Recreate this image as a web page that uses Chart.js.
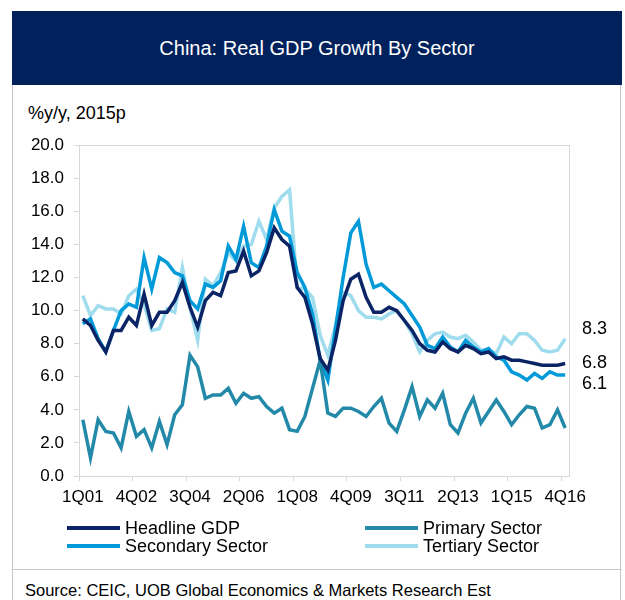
<!DOCTYPE html>
<html>
<head>
<meta charset="utf-8">
<script src="https://cdn.jsdelivr.net/npm/chart.js@4"></script>
<style>
  html, body { margin: 0; padding: 0; background: #fff; }
  body { width: 625px; height: 600px; position: relative; overflow: hidden;
         font-family: 'Liberation Sans', Arial, sans-serif; color: #000; }
  #frame { position: absolute; left: 12px; top: 11px; width: 609px; height: 620px;
           border: 1px solid #c8c8c8; box-sizing: border-box; }
  #banner { position: absolute; left: 12px; top: 11px; width: 610px; height: 74px;
            background: #00215c; color: #fff; font-size: 20px;
            display: flex; align-items: center; justify-content: center; }
  #unit { position: absolute; left: 28px; top: 103px; font-size: 18px; }
  #chart { position: absolute; left: 0; top: 125px; }
  .leg { position: absolute; font-size: 18px; line-height: 18px; white-space: nowrap; }
  .leg i { display: inline-block; width: 53px; height: 4px; vertical-align: middle;
           margin-right: 5px; position: relative; top: -1px; }
  #sep { position: absolute; left: 12px; top: 569px; width: 610px; height: 1px; background: #c8c8c8; }
  #source { position: absolute; left: 25px; top: 581px; font-size: 16.5px; white-space: nowrap; }
</style>
</head>
<body>
<div id="frame"></div>
<div id="banner">China: Real GDP Growth By Sector</div>
<div id="unit">%y/y, 2015p</div>
<canvas id="chart" width="625" height="405"></canvas>
<div class="leg" style="left:67px; top:519px;"><i style="background:#0b2466"></i>Headline GDP</div>
<div class="leg" style="left:365px; top:519px;"><i style="background:#2389a9"></i>Primary Sector</div>
<div class="leg" style="left:67px; top:537px;"><i style="background:#009ad9"></i>Secondary Sector</div>
<div class="leg" style="left:365px; top:537px;"><i style="background:#9fdcee"></i>Tertiary Sector</div>
<div id="sep"></div>
<div id="source">Source: CEIC, UOB Global Economics &amp; Markets Research Est</div>
<script>
// Quarterly real GDP growth, % y/y, 1Q01 to 4Q16
const years = ['01','02','03','04','05','06','07','08','09','10','11','12','13','14','15','16'];
const quarters = [];
years.forEach(y => { for (let q = 1; q <= 4; q++) quarters.push(q + 'Q' + y); });

const tickLabels = ['1Q01','4Q02','3Q04','2Q06','1Q08','4Q09','3Q11','2Q13','1Q15','4Q16'];

const headlineGDP = [
  9.5, 9.1, 8.2, 7.5, 8.8, 8.8, 9.6, 9.1, 11.0, 9.1, 9.9, 9.9, 10.6, 11.7, 10.2, 9.0,
  10.6, 11.1, 10.9, 12.3, 12.4, 13.6, 12.1, 12.4, 13.5, 15.0, 14.3, 13.9, 11.4, 10.8, 9.2, 7.1,
  6.4, 8.2, 10.6, 11.9, 12.2, 10.8, 9.9, 9.9, 10.2, 10.0, 9.4, 8.8, 8.0, 7.6, 7.5, 8.1,
  7.7, 7.5, 7.9, 7.7, 7.4, 7.5, 7.1, 7.2, 7.0, 7.0, 6.9, 6.8, 6.7, 6.7, 6.7, 6.8
];
const primarySector = [
  3.4, 1.1, 3.4, 2.7, 2.6, 1.7, 3.9, 2.4, 2.8, 1.7, 3.3, 1.9, 3.7, 4.3, 7.3, 6.6,
  4.7, 4.9, 4.9, 5.3, 4.4, 5.0, 4.7, 4.8, 4.2, 3.8, 4.1, 2.8, 2.7, 3.6, 5.3, 7.0,
  3.8, 3.6, 4.1, 4.1, 3.9, 3.6, 4.2, 4.7, 3.2, 2.7, 4.0, 5.4, 3.6, 4.6, 4.1, 5.0,
  3.1, 2.6, 3.8, 4.7, 3.2, 3.9, 4.6, 3.9, 3.1, 3.7, 4.2, 4.1, 2.9, 3.1, 4.0, 2.9
];
const secondarySector = [
  9.2, 9.5, 8.3, 7.5, 8.8, 10.0, 10.4, 10.2, 13.2, 11.3, 13.2, 12.9, 12.3, 12.1, 10.6, 10.1,
  11.6, 11.4, 11.8, 13.9, 13.1, 15.1, 12.9, 12.6, 13.9, 16.1, 14.8, 14.5, 12.3, 11.4, 9.8, 7.0,
  5.8, 8.9, 12.0, 14.7, 15.4, 12.8, 11.4, 11.6, 11.2, 10.8, 10.4, 9.7, 9.0, 7.9, 7.7, 8.4,
  7.8, 7.5, 8.2, 7.8, 7.5, 7.7, 7.2, 7.0, 6.3, 6.1, 5.8, 6.2, 5.9, 6.3, 6.1, 6.1
];
const tertiarySector = [
  10.9, 9.7, 10.3, 10.1, 10.1, 9.8, 10.9, 11.3, 10.4, 8.8, 8.9, 10.1, 9.9, 12.6, 10.2, 8.2,
  11.9, 11.5, 12.3, 13.5, 13.0, 13.9, 14.0, 15.4, 14.3, 16.2, 16.9, 17.3, 11.4, 11.3, 10.8, 8.5,
  7.3, 9.1, 11.1, 10.9, 10.0, 9.6, 9.6, 9.5, 9.8, 10.0, 9.4, 8.6, 7.5, 8.2, 8.6, 8.7,
  8.4, 8.3, 8.5, 8.1, 7.6, 7.6, 7.4, 8.4, 8.0, 8.6, 8.6, 8.2, 7.6, 7.5, 7.6, 8.3
];

// Latest readings annotated at the right edge, with small vertical nudges
const endLabels = [
  { series: tertiarySector,  text: '8.3', nudge: -10 },
  { series: headlineGDP,     text: '6.8', nudge: 0 },
  { series: secondarySector, text: '6.1', nudge: 9 }
];

const FONT = "'Liberation Sans', Arial, sans-serif";
const AXIS_GREY = '#d9d9d9';

const frameAndLabels = {
  id: 'frameAndLabels',
  afterDraw(chart) {
    const { ctx, chartArea: a, scales } = chart;
    ctx.save();
    ctx.strokeStyle = AXIS_GREY;
    ctx.lineWidth = 1;
    ctx.strokeRect(Math.round(a.left) + 0.5, Math.round(a.top) + 0.5,
                   Math.round(a.right - a.left), Math.round(a.bottom - a.top));
    ctx.fillStyle = '#000';
    ctx.font = '18px ' + FONT;
    ctx.textAlign = 'left';
    ctx.textBaseline = 'middle';
    endLabels.forEach(l => {
      const v = l.series[l.series.length - 1];
      ctx.fillText(l.text, a.right + 13, scales.y.getPixelForValue(v) + l.nudge);
    });
    ctx.restore();
  }
};

const lineDs = (label, data, color) => ({
  label, data, borderColor: color, backgroundColor: color,
  borderWidth: 3.5, pointRadius: 0, pointHoverRadius: 0, tension: 0, fill: false
});

new Chart(document.getElementById('chart'), {
  type: 'line',
  data: {
    labels: quarters,
    datasets: [
      lineDs('Headline GDP', headlineGDP, '#0b2466'),
      lineDs('Primary Sector', primarySector, '#2389a9'),
      lineDs('Secondary Sector', secondarySector, '#009ad9'),
      lineDs('Tertiary Sector', tertiarySector, '#9fdcee')
    ]
  },
  options: {
    responsive: false,
    animation: false,
    events: [],
    layout: { padding: { top: 20, right: 56, left: 0, bottom: 0 } },
    plugins: { legend: { display: false }, tooltip: { enabled: false }, title: { display: false } },
    scales: {
      x: {
        type: 'category',
        offset: true,
        afterFit: s => { s.height = 54; },
        border: { display: true, color: AXIS_GREY },
        grid: {
          offset: true, drawOnChartArea: false, drawTicks: true, tickLength: 5,
          color: c => (c.index !== undefined && c.index % 7 === 0) ? AXIS_GREY : 'rgba(0,0,0,0)'
        },
        ticks: {
          autoSkip: false, maxRotation: 0, minRotation: 0, padding: 6,
          color: '#000', font: { family: FONT, size: 17 },
          callback: function (v, i) {
            const lab = quarters[i];
            return tickLabels.includes(lab) ? lab : '';
          }
        }
      },
      y: {
        min: 0, max: 20,
        afterFit: s => { s.width = 79; },
        border: { display: true, color: AXIS_GREY },
        grid: { drawOnChartArea: false, drawTicks: true, tickLength: 5, color: AXIS_GREY },
        ticks: {
          stepSize: 2, padding: 10, color: '#000', font: { family: FONT, size: 17 },
          callback: v => v.toFixed(1)
        }
      }
    }
  },
  plugins: [frameAndLabels]
});
</script>
</body>
</html>
